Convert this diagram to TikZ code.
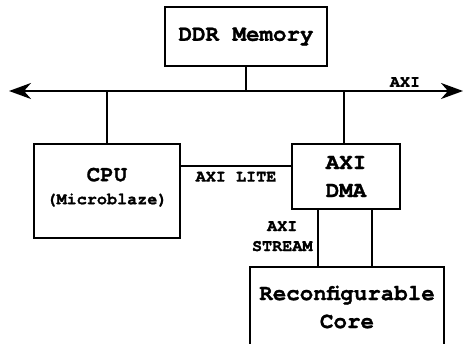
\documentclass[tikz,border=0pt]{standalone}
\usepackage{fontspec}
\setmonofont[BoldFeatures={FakeBold=1.2}]{TeX Gyre Cursor}
\usetikzlibrary{arrows.meta,positioning}

\begin{document}
\begin{tikzpicture}[
    x=1pt, y=-1pt,
    block/.style={rectangle, draw, line width=1.4pt, align=center, inner xsep=0pt, font=\ttfamily\bfseries\fontsize{22.5}{28}\selectfont},
    small/.style={font=\ttfamily\bfseries\fontsize{16.8}{20}\selectfont, align=center},
    wire/.style={line width=2pt},
    bus/.style={line width=2.2pt, {Stealth[length=22pt,width=16pt,inset=7pt]}-{Stealth[length=22pt,width=16pt,inset=7pt]}}
]
\useasboundingbox (0,0) rectangle (463,344);

% Memory
\node[block, minimum width=162pt, minimum height=59pt] (ddr) at (246,36.5) {DDR Memory};

% Bus
\coordinate (busL) at (9,91);
\coordinate (busR) at (463,91);
\draw[bus] (busL) -- (busR);
\node[small] (axi) at (405,82) {AXI};

% Processor and DMA
\node[block, minimum width=146pt, minimum height=94pt] (cpu) at (107,191) {CPU\\[-5pt]{\fontsize{16.8}{20}\selectfont(Microblaze)\rule[-10pt]{0pt}{10pt}}};
\node[block, minimum width=108pt, minimum height=65pt] (dma) at (346,176.5) {AXI\\DMA};

% Accelerator
\node[block, minimum width=194pt, minimum height=80pt] (core) at (347,307) {Reconfigurable\\Core};

% Connections to bus
\draw[wire] (ddr.south) -- (ddr.south |- busL);
\draw[wire] (cpu.north) -- (cpu.north |- busL);
\draw[wire] ([xshift=-2pt]dma.north) -- ([xshift=-2pt]dma.north |- busL);

% AXI lite
\draw[wire] ([yshift=10pt]dma.west) -- node[small, below=1pt] (lite) {AXI LITE} ([yshift=10pt]dma.west -| cpu.east);

% AXI stream
\coordinate (sl) at ([xshift=-28pt]dma.south);
\coordinate (sr) at ([xshift=26pt]dma.south);
\draw[wire] (sl) -- (sl |- core.north);
\draw[wire] (sr) -- (sr |- core.north);
\node[small, below left=8pt and 2pt of sl] (stream) {AXI\\STREAM};

\end{tikzpicture}
\end{document}
